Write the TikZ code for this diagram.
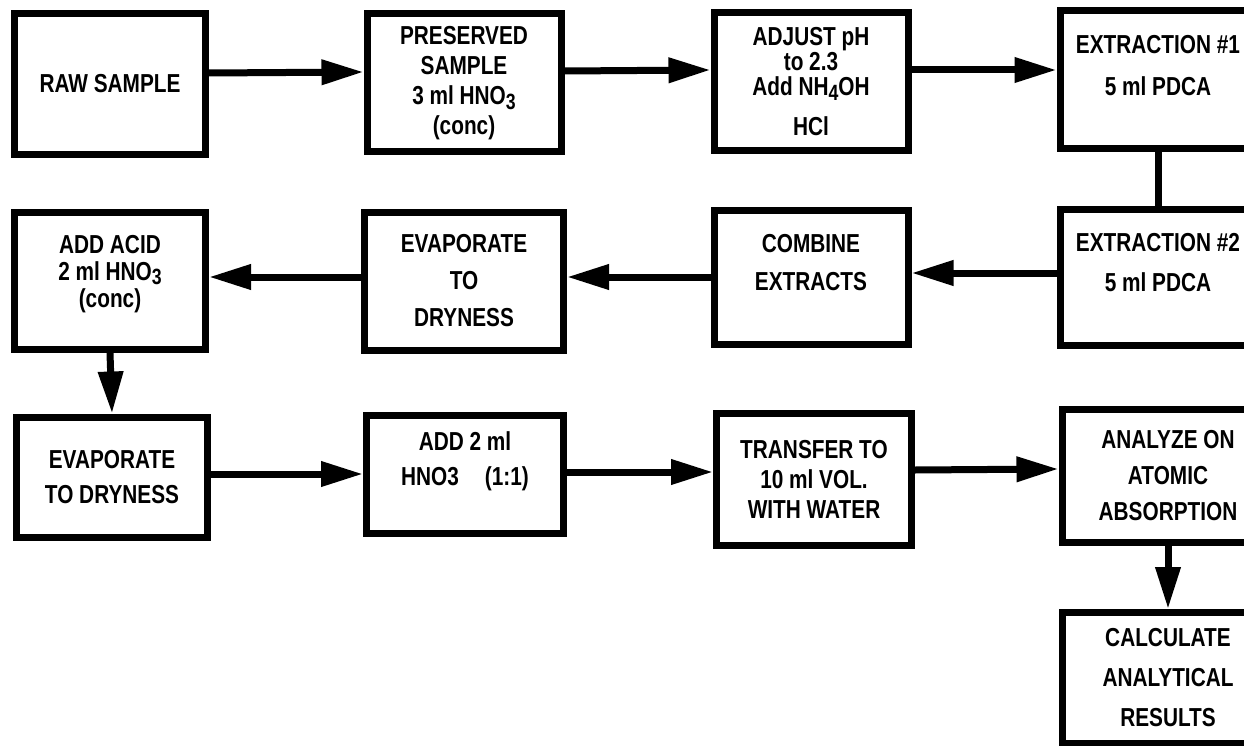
\documentclass[tikz,border=0pt]{standalone}
\usepackage{fontspec}
\newfontfamily\flowfont[FakeStretch=0.8]{Liberation Sans}
\usetikzlibrary{arrows.meta}
\newcommand{\hnothree}{HNO\raisebox{-.35ex}{\scalebox{.85}{3}}}
\newcommand{\nhfour}{NH\raisebox{-.35ex}{\scalebox{.85}{4}}}

\begin{document}
\begin{tikzpicture}[x=1pt,y=-1pt]
\tikzstyle{every node}=[font=\flowfont\bfseries\fontsize{26}{30}\selectfont, align=center]
\tikzstyle{stage}=[draw, line width=7pt, minimum width=194pt, minimum height=138pt, inner sep=0pt]
\tikzstyle{flow}=[line width=7pt, arrows={-Triangle[length=42pt,width=24pt]}]
\clip (0,0) rectangle (1244,746);
% first row
\node[stage, minimum width=191pt, minimum height=141pt] (raw) at (110,84) {RAW SAMPLE};
\node[stage] (pres) at (464,83) {PRESERVED\\SAMPLE\\3 ml \hnothree\\(conc)};
\node[stage] (adj) at (811,82) {ADJUST pH\\[-5pt]to 2.3\\[-5pt]Add \nhfour OH\\[10pt]HCl};
\node[stage, minimum width=196pt] (ext1) at (1158,80) {EXTRACTION \#1\\[12pt]5 ml PDCA\\\mbox{}};
% second row
\node[stage, minimum height=136pt, minimum width=196pt] (ext2) at (1158,277) {EXTRACTION \#2\\[10pt]5 ml PDCA\\\mbox{}};
\node[stage, minimum height=134pt] (comb) at (811,277) {COMBINE\\[8pt]EXTRACTS\\\mbox{}};
\node[stage, minimum width=199pt] (evap) at (464,281) {EVAPORATE\\[7pt]TO\\[7pt]DRYNESS};
\node[stage, minimum height=137pt, minimum width=191pt] (acid) at (110,281) {ADD ACID\\[-3pt]2 ml \hnothree\\[-3pt](conc)\\[-10pt]\mbox{}};
% third row
\node[stage, minimum height=120pt, minimum width=191pt] (dry) at (112,477) {EVAPORATE\\[5pt]TO DRYNESS};
\node[stage, minimum height=118pt, minimum width=197pt] (dil) at (465,474) {ADD 2 ml\\[5pt]HNO3\quad(1:1)\\\mbox{}};
\node[stage, minimum height=132pt, minimum width=195pt] (vol) at (814,479) {TRANSFER TO\\10 ml VOL.\\WITH WATER};
\node[stage, minimum height=133pt, minimum width=212pt] (aa) at (1168,476) {ANALYZE ON\\[6pt]ATOMIC\\[6pt]ABSORPTION};
\node[stage, minimum height=131pt, minimum width=212pt] (calc) at (1168,678) {CALCULATE\\[10pt]ANALYTICAL\\[10pt]RESULTS};

\path[flow] ([yshift=11pt]raw.east) edge ([yshift=11pt]pres.west)
  ([yshift=12pt]pres.east) edge ([yshift=12pt]adj.west)
  ([yshift=12pt]adj.east) edge ([yshift=10pt]ext1.west)
  ([yshift=4pt]ext2.west) edge ([yshift=4pt]comb.east)
  (comb.west) edge ([yshift=4pt]evap.east)
  ([yshift=4pt]evap.west) edge ([yshift=4pt]acid.east)
  (acid.south) edge (dry.north)
  ([yshift=3pt]dry.east) edge (dil.west)
  ([yshift=2pt]dil.east) edge ([yshift=7pt]vol.west)
  ([yshift=9pt]vol.east) edge ([yshift=7pt]aa.west)
  (aa.south) edge (calc.north);
\draw[line width=7pt] (ext1.south) -- (ext2.north);
\end{tikzpicture}
\end{document}
